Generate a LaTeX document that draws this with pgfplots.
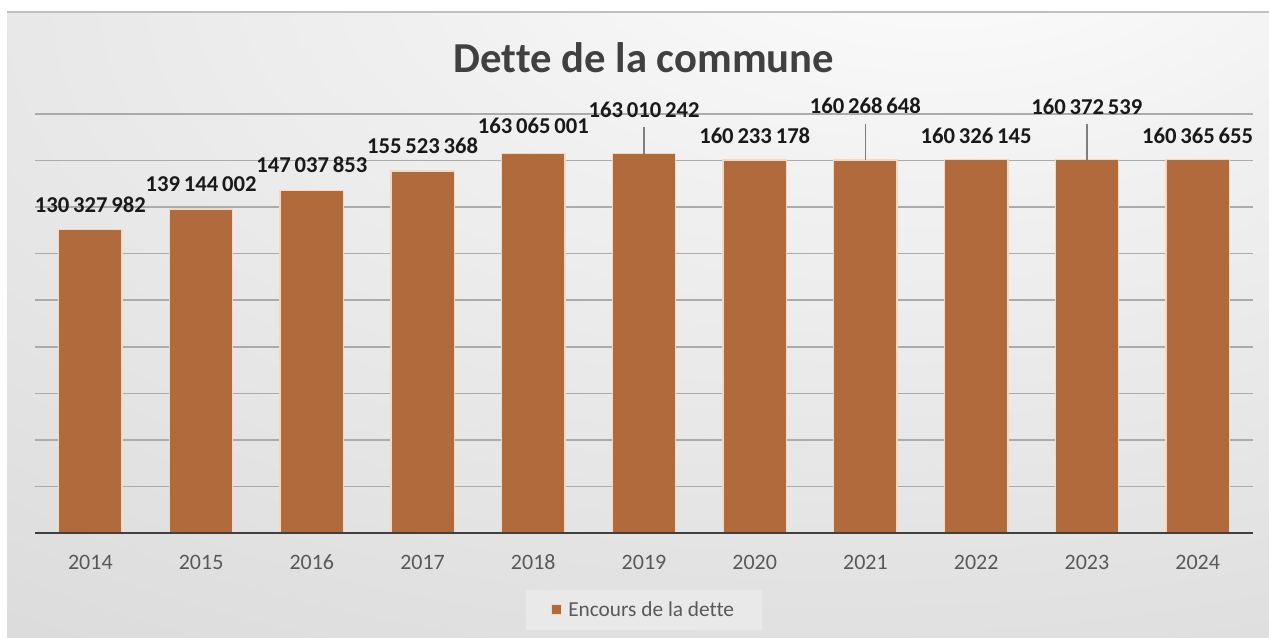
\documentclass[border=0pt]{standalone}
\usepackage{fontspec}
\setmainfont{Carlito}[Ligatures={NoCommon}]
\usepackage{pgfplots}
\usepackage{pgfplotstable}
\pgfplotsset{compat=1.18}
\definecolor{barcol}{HTML}{B06A3B}
\definecolor{baredge}{HTML}{F3D9C4}
\definecolor{gridcol}{HTML}{ABABAB}
\definecolor{axiscol}{HTML}{404040}
\definecolor{tickcol}{HTML}{595959}
\definecolor{titlecol}{HTML}{404040}
\definecolor{leadcol}{HTML}{7F7F7F}
\definecolor{bgA}{HTML}{F0F0F0}
\definecolor{bgB}{HTML}{DEDEDE}
\definecolor{bgC}{HTML}{CDCDCD}
\definecolor{bgD}{HTML}{BEBEBE}
\definecolor{legfill}{HTML}{E9E9E9}
\pgfdeclareradialshading{chartbg}{\pgfpoint{13bp}{35bp}}{color(0bp)=(white); color(20bp)=(bgA); color(50bp)=(bgB); color(80bp)=(bgC); color(115bp)=(bgD)}

\pgfplotstableread[col sep=comma]{
x,y,label,shift,lead
0,130327982,130\,327\,982,12.75,0
1,139144002,139\,144\,002,13.1,0
2,147037853,147\,037\,853,13.9,0
3,155523368,155\,523\,368,13.1,0
4,163065001,163\,065\,001,14.6,0
5,163010242,163\,010\,242,27.4,11600000
6,160233178,160\,233\,178,12.4,0
7,160268648,160\,268\,648,34.9,15500000
8,160326145,160\,326\,145,12.4,0
9,160372539,160\,372\,539,34.1,15500000
10,160365655,160\,365\,655,12.4,0
}\debt

\begin{document}
\begin{tikzpicture}
\useasboundingbox (0pt,0pt) rectangle (951.75pt,477.75pt);
\fill[white] (0pt,0pt) rectangle (951.75pt,477.75pt);
\shade[shading=chartbg] (5.25pt,0pt) rectangle (951.75pt,468.75pt);
\draw[gray!50, line width=1pt] (5.25pt,468.75pt) -- (951.75pt,468.75pt);
\begin{axis}[
  at={(26.25pt,78pt)}, anchor=south west,
  scale only axis, width=913.5pt, height=314.25pt,
  xmin=-0.5, xmax=10.5, ymin=0, ymax=180000000,
  ytick={0,20000000,40000000,60000000,80000000,100000000,120000000,140000000,160000000,180000000},
  yticklabels={}, scaled y ticks=false,
  ymajorgrids, grid style={draw=gridcol, line width=1.1pt},
  ytick style={draw=none}, xtick style={draw=none},
  axis line style={draw=none},
  xtick={0,1,2,3,4,5,6,7,8,9,10},
  xticklabels={2014,2015,2016,2017,2018,2019,2020,2021,2022,2023,2024},
  xticklabel style={font=\fontsize{16.5}{19}\selectfont, text=tickcol, anchor=base, yshift=-27pt},
  /pgf/number format/assume math mode=true,
  legend style={at={(0.5,0)}, anchor=north, yshift=-42.75pt, fill=legfill, draw=none,
    font=\fontsize{16}{19}\selectfont, text=tickcol, inner xsep=19pt, inner ysep=6.5pt},
  legend image code/.code={\draw[fill=barcol, draw=baredge, line width=0.5pt] (0pt,-3.5pt) rectangle (7.5pt,4.5pt); \path (10pt,0pt);},
]
\addplot[ybar, bar width=47.5pt, bar shift=0pt, fill=barcol, draw=baredge, line width=1pt,
  point meta=explicit symbolic,
  visualization depends on={\thisrow{shift} \as \lshift},
  nodes near coords={\pgfplotspointmeta},
  every node near coord/.append style={anchor=base, yshift=\lshift pt, font=\fontsize{17}{20}\selectfont\bfseries, text=black!90},
  error bars/.cd, y dir=plus, y explicit, error mark=none,
  error bar style={draw=leadcol, line width=1.1pt}]
  table[x=x, y=y, meta=label, y error=lead] {\debt};
\addlegendentry{Encours de la dette}
\draw[axiscol, line width=2.25pt] (rel axis cs:0,0) -- (rel axis cs:1,0);
\end{axis}
\node[font=\fontsize{32}{38}\selectfont\bfseries, text=titlecol] at (483pt,434.25pt) {Dette de la commune};
\end{tikzpicture}
\end{document}
